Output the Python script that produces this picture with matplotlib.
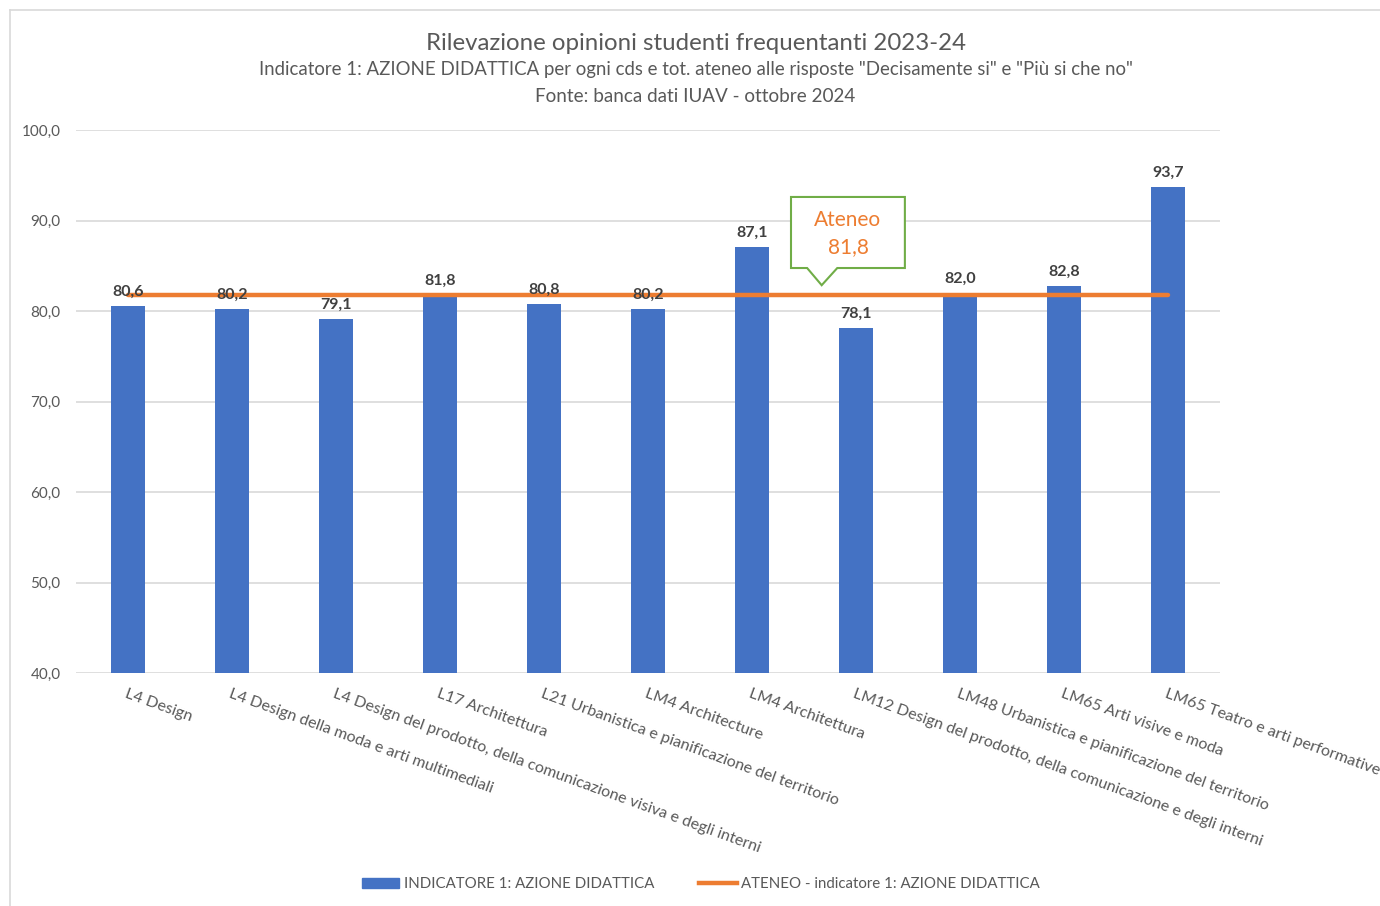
import matplotlib
matplotlib.use("Agg")
import matplotlib.pyplot as plt
from matplotlib.patches import Polygon
from matplotlib.lines import Line2D
import matplotlib.patches as mpatches

plt.rcParams['font.family'] = ['Lato', 'DejaVu Sans']

categories = [
    "L4 Design",
    "L4 Design della moda e arti multimediali",
    "L4 Design del prodotto, della comunicazione visiva e degli interni",
    "L17 Architettura",
    "L21 Urbanistica e pianificazione del territorio",
    "LM4 Architecture",
    "LM4 Architettura",
    "LM12 Design del prodotto, della comunicazione e degli interni",
    "LM48 Urbanistica e pianificazione del territorio",
    "LM65 Arti visive e moda",
    "LM65 Teatro e arti performative",
]
indicatore = [80.6, 80.2, 79.1, 81.8, 80.8, 80.2, 87.1, 78.1, 82.0, 82.8, 93.7]
ateneo_value = 81.8
ateneo = [ateneo_value] * len(categories)
yticks = [40, 50, 60, 70, 80, 90, 100]

BLUE = "#4472C4"
ORANGE = "#ED7D31"
GREEN = "#70AD47"
GRID = "#D9D9D9"
TXT = "#595959"

def fmt(v):
    return f"{v:.1f}".replace(".", ",")

fig = plt.figure(figsize=(13.8, 9.06), dpi=100)
ax = fig.add_axes([76/1380, 1-673/906, (1220-76)/1380, (673-130)/906])

x = list(range(len(categories)))
ax.bar(x, indicatore, width=0.33, color=BLUE, zorder=2)
ax.plot(x, ateneo, color=ORANGE, lw=3.2, zorder=3, solid_capstyle='round')

for xi, v in zip(x, indicatore):
    ax.annotate(fmt(v), (xi, v), xytext=(0, 5), textcoords='offset points',
                ha='center', va='bottom', fontsize=11.5, fontweight='bold', color="#404040", zorder=4)

ax.set_xlim(-0.5, len(categories) - 0.5)
ax.set_ylim(40, 100)
ax.set_yticks(yticks)
ax.set_yticklabels([fmt(t) for t in yticks], fontsize=11, color=TXT)
ax.yaxis.grid(True, color=GRID, lw=1.2, zorder=0)
ax.set_axisbelow(True)
ax.tick_params(axis='both', length=0)
ax.tick_params(axis='y', pad=11)
for s in ax.spines.values():
    s.set_visible(False)

ax.set_xticks(x)
ax.set_xticklabels(categories, rotation=-20, ha='left', va='top', rotation_mode='anchor',
                   fontsize=11.5, color=TXT)
ax.tick_params(axis='x', pad=10)

# Callout "Ateneo"
tip_x, tip_y = 6.67, ateneo_value + 1.05
x0, x1 = 6.375, 7.47
y0, y1 = 84.75, 92.6
callout = Polygon([(x0, y0), (6.53, y0), (tip_x, tip_y), (6.82, y0), (x1, y0), (x1, y1), (x0, y1)],
                  closed=True, facecolor='white', edgecolor=GREEN, lw=1.5, zorder=5)
ax.add_patch(callout)
ax.text((x0 + x1) / 2, 90.1, "Ateneo", ha='center', va='center', fontsize=15, color=ORANGE, zorder=6)
ax.text((x0 + x1) / 2, 87.1, fmt(ateneo_value), ha='center', va='center', fontsize=15, color=ORANGE, zorder=6)

# Titles
fig.text(0.504, 1-43/906, "Rilevazione opinioni studenti frequentanti 2023-24", ha='center', va='center',
         fontsize=17.3, color=TXT)
fig.text(0.504, 1-70/906, "Indicatore 1: AZIONE DIDATTICA per ogni cds e tot. ateneo alle risposte \"Decisamente si\" e \"Più si che no\"",
         ha='center', va='center', fontsize=13.4, color=TXT)
fig.text(0.504, 1-96/906, "Fonte: banca dati IUAV - ottobre 2024", ha='center', va='center', fontsize=13.6, color=TXT)

# Legend
handles = [mpatches.Patch(color=BLUE), Line2D([0], [0], color=ORANGE, lw=3.2)]
labels = ["INDICATORE 1: AZIONE DIDATTICA", "ATENEO - indicatore 1: AZIONE DIDATTICA"]
leg = fig.legend(handles, labels, loc='center', bbox_to_anchor=(0.508, 1-884/906), ncol=2, frameon=False,
                 fontsize=10.8, handlelength=2.5, handleheight=0.7, handletextpad=0.3, columnspacing=3.0)
for t in leg.get_texts():
    t.set_color(TXT)

# Border
fig.add_artist(Line2D([10/1380, 1], [1-10/906, 1-10/906], color=GRID, lw=1.2, transform=fig.transFigure))
fig.add_artist(Line2D([10/1380, 10/1380], [0, 1-10/906], color=GRID, lw=1.2, transform=fig.transFigure))

fig.savefig("out.png", dpi=100)
